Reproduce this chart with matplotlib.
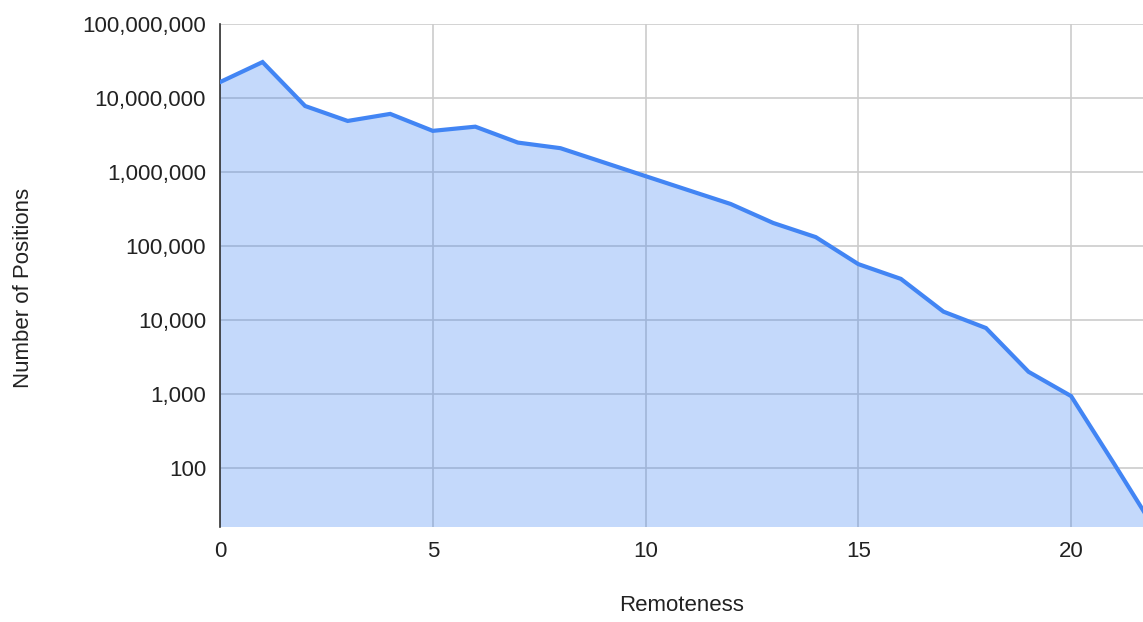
import matplotlib
matplotlib.use("Agg")
import matplotlib.pyplot as plt
import matplotlib.ticker as ticker

plt.rcParams['font.family'] = ['Liberation Sans', 'DejaVu Sans']

# remoteness -> number of positions
remoteness = list(range(0, 23))
positions = [16400000, 30600000, 7800000, 4900000, 6100000, 3600000, 4100000,
             2500000, 2100000, 1360000, 880000, 570000, 370000, 205000,
             132000, 57000, 36000, 13000, 7800, 2000, 940, 117, 14]
y_ticks = [100, 1000, 10000, 100000, 1000000, 10000000, 100000000]
x_ticks = [0, 5, 10, 15, 20]

line_color = "#4285F4"
text_color = "#222222"

fig = plt.figure(figsize=(11.43, 6.22), dpi=100)
ax = fig.add_axes([220/1143, 95/622, 923/1143, 503/622])

ax.fill_between(remoteness, positions, 1e-3, color=line_color, alpha=0.31, linewidth=0, zorder=2)
ax.plot(remoteness, positions, color=line_color, linewidth=3, zorder=3, solid_joinstyle="miter")

ax.set_yscale("log")
ax.set_ylim(16, 1e8)
ax.set_xlim(0, 21.69)

ax.yaxis.set_major_locator(ticker.FixedLocator(y_ticks))
ax.yaxis.set_minor_locator(ticker.NullLocator())
ax.yaxis.set_major_formatter(ticker.FuncFormatter(lambda v, p: "{:,.0f}".format(v)))
ax.xaxis.set_major_locator(ticker.FixedLocator(x_ticks))

ax.grid(True, color="#cccccc", linewidth=1.2, zorder=1)
ax.set_axisbelow(True)

for side in ["top", "right", "bottom"]:
    ax.spines[side].set_visible(False)
ax.spines["left"].set_color("#333333")
ax.spines["left"].set_linewidth(1.2)

ax.tick_params(axis="both", length=0, labelsize=16, colors=text_color)
ax.tick_params(axis="x", pad=10)
ax.tick_params(axis="y", pad=10)

ax.set_xlabel("Remoteness", fontsize=16, color="#222222", labelpad=24)
ax.set_ylabel("Number of Positions", fontsize=16, color="#222222")
ax.yaxis.set_label_coords(-0.202, 0.475)

plt.savefig("out.png", dpi=100)
